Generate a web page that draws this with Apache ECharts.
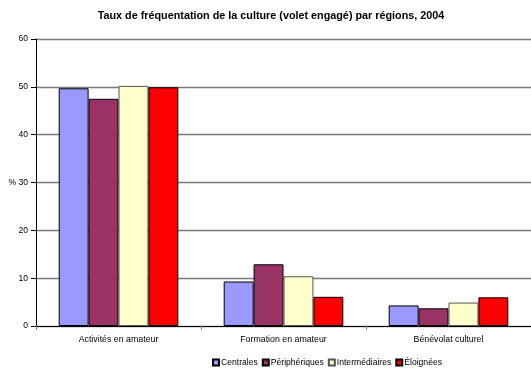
<!DOCTYPE html>
<html>
<head>
<meta charset="utf-8">
<script src="https://cdn.jsdelivr.net/npm/echarts@6/dist/echarts.min.js"></script>
<style>
html,body{margin:0;padding:0;background:#fff;}
#chart{width:531px;height:368px;}
</style>
</head>
<body>
<div id="chart"></div>
<script>
// Engaged cultural participation rates by region type, 2004 (%)
const categories = ['Activités en amateur', 'Formation en amateur', 'Bénévolat culturel'];
const centrales = [49.7, 9.3, 4.3];
const peripheriques = [47.5, 12.9, 3.7];
const intermediaires = [50.2, 10.4, 4.9];
const eloignees = [49.9, 6.1, 6.0];
const yTicks = [0, 10, 20, 30, 40, 50, 60];

const font = 'Arial, "Liberation Sans", sans-serif';

function bar(name, data, color, border) {
  return {
    name: name,
    type: 'bar',
    data: data,
    barGap: '0%',
    barCategoryGap: '27.5%',
    itemStyle: { color: color, borderColor: border, borderWidth: 1 }
  };
}

const chart = echarts.init(document.getElementById('chart'), null, { renderer: 'canvas' });
chart.setOption({
  animation: false,
  title: {
    text: 'Taux de fréquentation de la culture (volet engagé) par régions, 2004',
    left: 266, textAlign: 'center', top: 6,
    textStyle: { fontFamily: font, fontSize: 10.8, fontWeight: 'bold', color: '#000' }
  },
  legend: {
    left: 207, top: 353,
    itemWidth: 6, itemHeight: 6, itemGap: 4,
    icon: 'rect',
    textStyle: { fontFamily: font, fontSize: 8.6, color: '#000', padding: [0, 0, 0, -3] },
    data: ['Centrales', 'Périphériques', 'Intermédiaires', 'Éloignées']
  },
  grid: { left: 36, top: 39, width: 498, height: 287, containLabel: false },
  xAxis: {
    type: 'category',
    data: categories,
    axisLine: { lineStyle: { color: '#000', width: 1 } },
    axisTick: { show: true, length: 4, lineStyle: { color: '#808080' } },
    axisLabel: { fontFamily: font, fontSize: 8.8, color: '#000', margin: 9 }
  },
  yAxis: {
    type: 'value',
    min: yTicks[0], max: yTicks[yTicks.length - 1], interval: 10,
    axisLine: { show: true, lineStyle: { color: '#000', width: 1 } },
    axisTick: { show: true, length: 5, lineStyle: { color: '#000' } },
    splitLine: { lineStyle: { color: '#7a7a7a', width: 1.3 } },
    axisLabel: {
      fontFamily: font, fontSize: 8.6, color: '#000', margin: 8,
      formatter: v => (v === 30 ? '% ' + v : String(v))
    }
  },
  series: [
    bar('Centrales', centrales, '#9999FF', '#000'),
    bar('Périphériques', peripheriques, '#993366', '#000'),
    bar('Intermédiaires', intermediaires, '#FFFFCC', '#555'),
    bar('Éloignées', eloignees, '#FF0000', '#000')
  ]
});
</script>
</body>
</html>
